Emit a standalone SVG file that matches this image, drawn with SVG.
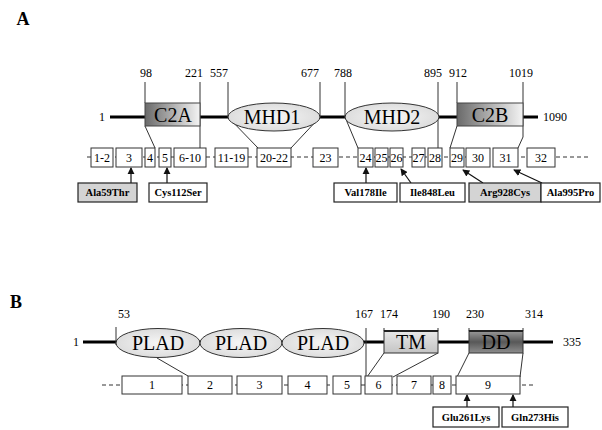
<svg xmlns="http://www.w3.org/2000/svg" width="602" height="430" viewBox="0 0 602 430">
<style>
text{font-family:"Liberation Serif","Times New Roman",serif;fill:#000}
.pl{font-weight:bold;font-size:18px}
.num{font-size:12px;text-anchor:middle}
.dom{font-size:20px;text-anchor:middle}
.ex{font-size:12px;text-anchor:middle}
.mut{font-size:10.5px;font-weight:bold;text-anchor:middle}
.bb{stroke:#000;stroke-width:3;fill:none}
.tk{stroke:#333;stroke-width:1;fill:none}
.exb{fill:#fff;stroke:#333;stroke-width:1}
.mb{fill:#fff;stroke:#222;stroke-width:1.2}
.mg{fill:#d4d4d4;stroke:#222;stroke-width:1.2}
.dash{stroke:#333;stroke-width:1;stroke-dasharray:4 3;fill:none}
.ell{fill:url(#ge);stroke:#333;stroke-width:1}
.arr{stroke:#111;stroke-width:1.2;fill:none;marker-end:url(#ah)}
</style>
<defs>
<linearGradient id="gh" x1="0" y1="0" x2="1" y2="0">
<stop offset="0" stop-color="#6a6a6a"/><stop offset="1" stop-color="#f4f4f4"/>
</linearGradient>
<radialGradient id="ge" cx="0.5" cy="0.5" r="0.6">
<stop offset="0" stop-color="#f6f6f6"/><stop offset="1" stop-color="#d8d8d8"/>
</radialGradient>
<linearGradient id="gt" x1="0" y1="0" x2="0" y2="1">
<stop offset="0" stop-color="#e8e8e8"/><stop offset="1" stop-color="#c4c4c4"/>
</linearGradient>
<linearGradient id="gd" x1="0" y1="0" x2="0" y2="1">
<stop offset="0" stop-color="#9a9a9a"/><stop offset="0.5" stop-color="#585858"/><stop offset="1" stop-color="#8e8e8e"/>
</linearGradient>
<marker id="ah" viewBox="0 0 8 8" refX="7" refY="4" markerWidth="6" markerHeight="6" orient="auto">
<path d="M0,0 L8,4 L0,8 z" fill="#111"/>
</marker>
</defs>

<text class="pl" x="23" y="25" text-anchor="middle">A</text>
<text class="pl" x="16" y="308" text-anchor="middle">B</text>

<g id="connectors">
<line class="bb" x1="110" y1="117" x2="538" y2="117"/>
<line class="dash" x1="87" y1="157" x2="590" y2="157"/>
<line class="tk" x1="145" y1="82" x2="145" y2="103"/>
<line class="tk" x1="200" y1="82" x2="200" y2="148"/>
<line class="tk" x1="145" y1="126" x2="155" y2="148"/>
<line class="tk" x1="228" y1="82" x2="228" y2="117"/>
<line class="tk" x1="228" y1="117" x2="258" y2="148"/>
<line class="tk" x1="320" y1="82" x2="320" y2="117"/>
<line class="tk" x1="320" y1="117" x2="291" y2="148"/>
<line class="tk" x1="345" y1="82" x2="345" y2="117"/>
<line class="tk" x1="345" y1="117" x2="358" y2="148"/>
<line class="tk" x1="438" y1="82" x2="438" y2="148"/>
<line class="tk" x1="457" y1="82" x2="457" y2="103"/>
<line class="tk" x1="457" y1="126" x2="450" y2="148"/>
<line class="tk" x1="523" y1="82" x2="523" y2="137"/>
<line class="tk" x1="523" y1="137" x2="518" y2="148"/>
<line class="arr" x1="131" y1="183" x2="131" y2="168"/>
<line class="arr" x1="167" y1="183" x2="167" y2="168"/>
<line class="arr" x1="366" y1="183" x2="366" y2="168"/>
<line class="arr" x1="411" y1="183" x2="401" y2="169"/>
<line class="arr" x1="483" y1="183" x2="463" y2="170"/>
<line class="arr" x1="542" y1="183" x2="514" y2="170"/>

<line class="bb" x1="83" y1="342" x2="553" y2="342"/>
<line class="dash" x1="102" y1="385" x2="536" y2="385"/>
<line class="tk" x1="116" y1="327" x2="116" y2="345"/>
<line class="tk" x1="157" y1="358" x2="188" y2="376"/>
<line class="tk" x1="366" y1="328" x2="366" y2="377"/>
<line class="tk" x1="384" y1="328" x2="384" y2="331"/>
<line class="tk" x1="438" y1="328" x2="438" y2="331"/>
<line class="tk" x1="384" y1="353" x2="367" y2="377"/>
<line class="tk" x1="438" y1="353" x2="393" y2="377"/>
<line class="tk" x1="469" y1="328" x2="469" y2="331"/>
<line class="tk" x1="523" y1="328" x2="523" y2="331"/>
<line class="tk" x1="469" y1="353" x2="457" y2="377"/>
<line class="tk" x1="523" y1="353" x2="520" y2="377"/>
<line class="arr" x1="467" y1="407" x2="467" y2="395"/>
<line class="arr" x1="513" y1="407" x2="513" y2="395"/>
</g>

<g id="numsA">
<text class="num" x="102" y="121">1</text>
<text class="num" x="146" y="77">98</text>
<text class="num" x="194" y="77">221</text>
<text class="num" x="219" y="77">557</text>
<text class="num" x="310" y="77">677</text>
<text class="num" x="343" y="77">788</text>
<text class="num" x="433" y="77">895</text>
<text class="num" x="458" y="77">912</text>
<text class="num" x="521" y="77">1019</text>
<text class="num" x="555" y="121">1090</text>
</g>

<g id="C2A"><rect x="145" y="103" width="55" height="23" fill="url(#gh)" stroke="#444" stroke-width="1"/><text class="dom" x="173" y="122">C2A</text></g>
<g id="MHD1"><ellipse class="ell" cx="274" cy="117" rx="46" ry="14"/><text class="dom" x="272" y="124">MHD1</text></g>
<g id="MHD2"><ellipse class="ell" cx="392" cy="117" rx="47" ry="14"/><text class="dom" x="392" y="124">MHD2</text></g>
<g id="C2B"><rect x="457" y="103" width="66" height="23" fill="url(#gh)" stroke="#444" stroke-width="1"/><text class="dom" x="490" y="122">C2B</text></g>

<g id="exA1-2"><rect class="exb" x="91" y="148" width="22" height="19"/><text class="ex" x="102" y="162">1-2</text></g>
<g id="exA3"><rect class="exb" x="116" y="148" width="26" height="19"/><text class="ex" x="129" y="162">3</text></g>
<g id="exA4"><rect class="exb" x="145" y="148" width="10" height="19"/><text class="ex" x="150" y="162">4</text></g>
<g id="exA5"><rect class="exb" x="159" y="148" width="12" height="19"/><text class="ex" x="165" y="162">5</text></g>
<g id="exA6-10"><rect class="exb" x="174" y="148" width="32" height="19"/><text class="ex" x="190" y="162">6-10</text></g>
<g id="exA11-19"><rect class="exb" x="215" y="148" width="33" height="19"/><text class="ex" x="231.5" y="162">11-19</text></g>
<g id="exA20-22"><rect class="exb" x="257" y="148" width="34" height="19"/><text class="ex" x="274" y="162">20-22</text></g>
<g id="exA23"><rect class="exb" x="313" y="148" width="25" height="19"/><text class="ex" x="325.5" y="162">23</text></g>
<g id="exA24"><rect class="exb" x="358" y="148" width="15" height="19"/><text class="ex" x="365.5" y="162">24</text></g>
<g id="exA25"><rect class="exb" x="375" y="148" width="13" height="19"/><text class="ex" x="381.5" y="162">25</text></g>
<g id="exA26"><rect class="exb" x="390" y="148" width="13" height="19"/><text class="ex" x="396.5" y="162">26</text></g>
<g id="exA27"><rect class="exb" x="412" y="148" width="13" height="19"/><text class="ex" x="418.5" y="162">27</text></g>
<g id="exA28"><rect class="exb" x="428" y="148" width="14" height="19"/><text class="ex" x="435" y="162">28</text></g>
<g id="exA29"><rect class="exb" x="450" y="148" width="14" height="19"/><text class="ex" x="457" y="162">29</text></g>
<g id="exA30"><rect class="exb" x="466" y="148" width="24" height="19"/><text class="ex" x="478" y="162">30</text></g>
<g id="exA31"><rect class="exb" x="493" y="148" width="25" height="19"/><text class="ex" x="505.5" y="162">31</text></g>
<g id="exA32"><rect class="exb" x="527" y="148" width="28" height="19"/><text class="ex" x="541" y="162">32</text></g>

<g id="mAla59Thr"><rect class="mg" x="78" y="183" width="59" height="19"/><text class="mut" x="107.5" y="196">Ala59Thr</text></g>
<g id="mCys112Ser"><rect class="mb" x="149" y="183" width="58" height="19"/><text class="mut" x="178" y="196">Cys112Ser</text></g>
<g id="mVal178Ile"><rect class="mb" x="334" y="183" width="63" height="19"/><text class="mut" x="365.5" y="196">Val178Ile</text></g>
<g id="mIle848Leu"><rect class="mb" x="400" y="183" width="65" height="19"/><text class="mut" x="432.5" y="196">Ile848Leu</text></g>
<g id="mArg928Cys"><rect class="mg" x="469" y="183" width="72" height="19"/><text class="mut" x="505" y="196">Arg928Cys</text></g>
<g id="mAla995Pro"><rect class="mb" x="541" y="183" width="59" height="19"/><text class="mut" x="570.5" y="196">Ala995Pro</text></g>

<g id="numsB">
<text class="num" x="76" y="346">1</text>
<text class="num" x="124" y="318">53</text>
<text class="num" x="364" y="318">167</text>
<text class="num" x="389" y="318">174</text>
<text class="num" x="441" y="318">190</text>
<text class="num" x="475" y="318">230</text>
<text class="num" x="534" y="318">314</text>
<text class="num" x="572" y="346">335</text>
</g>

<g id="PLAD1"><ellipse class="ell" cx="158" cy="343" rx="42" ry="14.5"/><text class="dom" x="158" y="350">PLAD</text></g>
<g id="PLAD2"><ellipse class="ell" cx="241" cy="343" rx="41" ry="14.5"/><text class="dom" x="241" y="350">PLAD</text></g>
<g id="PLAD3"><ellipse class="ell" cx="323" cy="343" rx="41" ry="14.5"/><text class="dom" x="323" y="350">PLAD</text></g>
<g id="TM"><rect x="384" y="331" width="54" height="22" fill="url(#gt)" stroke="#333" stroke-width="1"/><line x1="384" y1="331" x2="438" y2="331" stroke="#222" stroke-width="2"/><text class="dom" x="411" y="349">TM</text></g>
<g id="DD"><rect x="469" y="331" width="54" height="22" fill="url(#gd)" stroke="#333" stroke-width="1"/><line x1="469" y1="331" x2="523" y2="331" stroke="#222" stroke-width="2"/><text class="dom" x="496" y="349">DD</text></g>

<g id="exB1"><rect class="exb" x="122" y="376" width="60" height="18"/><text class="ex" x="152" y="389">1</text></g>
<g id="exB2"><rect class="exb" x="188" y="376" width="44" height="18"/><text class="ex" x="210" y="389">2</text></g>
<g id="exB3"><rect class="exb" x="237" y="376" width="45" height="18"/><text class="ex" x="259.5" y="389">3</text></g>
<g id="exB4"><rect class="exb" x="288" y="376" width="39" height="18"/><text class="ex" x="307.5" y="389">4</text></g>
<g id="exB5"><rect class="exb" x="333" y="376" width="28" height="18"/><text class="ex" x="347" y="389">5</text></g>
<g id="exB6"><rect class="exb" x="365" y="376" width="27" height="18"/><text class="ex" x="378.5" y="389">6</text></g>
<g id="exB7"><rect class="exb" x="397" y="376" width="34" height="18"/><text class="ex" x="414" y="389">7</text></g>
<g id="exB8"><rect class="exb" x="433" y="376" width="18" height="18"/><text class="ex" x="442" y="389">8</text></g>
<g id="exB9"><rect class="exb" x="456" y="376" width="64" height="18"/><text class="ex" x="488" y="389">9</text></g>

<g id="mGlu261Lys"><rect class="mb" x="433" y="407" width="66" height="20"/><text class="mut" x="466" y="421">Glu261Lys</text></g>
<g id="mGln273His"><rect class="mb" x="502" y="407" width="66" height="20"/><text class="mut" x="535" y="421">Gln273His</text></g>
</svg>
